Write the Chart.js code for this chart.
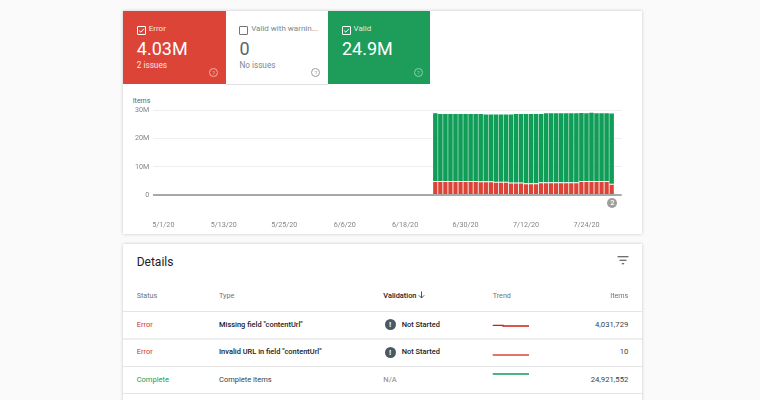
<!DOCTYPE html>
<html><head><meta charset="utf-8">
<script src="https://cdn.jsdelivr.net/npm/chart.js@4"></script>
<style>
html,body{margin:0;padding:0;width:760px;height:400px;overflow:hidden;background:#fafafa;font-family:Roboto,sans-serif;}
#page{position:absolute;left:0;top:0;width:760px;height:400px;overflow:hidden;background:#fafafa;filter:blur(.35px);}
.a{position:absolute;white-space:nowrap;line-height:1;}
.card{position:absolute;background:#fff;box-shadow:0 0 3px rgba(0,0,0,.22);}
.tile{position:absolute;top:11px;height:72.5px;width:102.3px;}
.cb{position:absolute;width:7px;height:7px;border:1px solid;border-radius:1px;top:25.8px;}
.cb svg{position:absolute;left:0;top:0;width:7px;height:7px;}
.q{position:absolute;top:67.5px;width:7px;height:7px;border:1px solid;border-radius:50%;font-size:6px;line-height:7px;text-align:center;}
.sep{position:absolute;left:123px;width:519px;background:#e4e4e4;height:1px;}
.bold{font-size:7.45px;color:#202124;font-weight:500;}
.ex{position:absolute;left:384.5px;width:11px;height:11px;border-radius:50%;background:#455a6b;color:#fff;font-size:8px;line-height:11px;text-align:center;font-weight:700;}
canvas{position:absolute;}
</style></head><body><div id="page">
<div class="card" style="left:123.3px;top:11px;width:518.7px;height:223px"></div>
<div class="tile" style="left:123.3px;background:#db4437"></div>
<div class="tile" style="left:225.6px;background:#fff;border-bottom:1px solid #e0e0e0"></div>
<div class="tile" style="left:328px;background:#1e9c5a"></div>
<div class="cb" style="left:136.7px;border-color:#fff"><svg viewBox="0 0 7 7"><path d="M1.2 3.6 L2.9 5.2 L5.9 1.8" fill="none" stroke="#fff" stroke-width="1"/></svg></div>
<div class="a" style="left:148.7px;top:25px;font-size:8px;color:#fbe4e1">Error</div>
<div class="a" style="left:136.8px;top:40px;font-size:18px;color:#fff">4.03M</div>
<div class="a" style="left:136.8px;top:61.3px;font-size:8.2px;color:#fbe4e1">2 issues</div>
<div class="q" style="left:209.2px;border-color:#eeb3ab;color:#eeb3ab">?</div>
<div class="cb" style="left:239.3px;border-color:#757575"></div>
<div class="a" style="left:251.2px;top:25px;font-size:8px;color:#80868b">Valid with warnin...</div>
<div class="a" style="left:239.4px;top:40px;font-size:18px;color:#5f6368">0</div>
<div class="a" style="left:239.4px;top:61.3px;font-size:8.2px;color:#80868b">No issues</div>
<div class="q" style="left:311.3px;border-color:#9e9e9e;color:#9e9e9e">?</div>
<div class="cb" style="left:341.6px;border-color:#fff"><svg viewBox="0 0 7 7"><path d="M1.2 3.6 L2.9 5.2 L5.9 1.8" fill="none" stroke="#fff" stroke-width="1"/></svg></div>
<div class="a" style="left:353.6px;top:25px;font-size:8px;color:#d9efe3">Valid</div>
<div class="a" style="left:342px;top:40px;font-size:18px;color:#fff">24.9M</div>
<div class="q" style="left:413.8px;border-color:#8fd0ae;color:#8fd0ae">?</div>
<div class="a" style="left:132.7px;top:97.5px;font-size:7px;color:#5f6368">Items</div>
<canvas id="main" width="519" height="140" style="left:123px;top:90px;width:519px;height:140px"></canvas>
<div class="a" style="left:607.3px;top:197.7px;width:10px;height:10px;border-radius:50%;background:#9e9e9e;color:#fff;font-size:7.5px;line-height:10px;text-align:center;font-weight:500">2</div>

<div class="card" style="left:123.3px;top:244px;width:518.7px;height:170px"></div>
<div class="a" style="left:136.7px;top:255.5px;font-size:12px;color:#202124">Details</div>
<svg style="position:absolute;left:617px;top:256px" width="12" height="9" viewBox="0 0 12 9"><path d="M0.5 .7H11.5M2.5 4.2H9.5M4.8 7.7H7.2" stroke="#3c4043" stroke-width="1.1" fill="none"/></svg>
<div class="a" style="left:136.7px;top:291.8px;font-size:7.2px;color:#6f7378">Status</div>
<div class="a" style="left:219px;top:291.8px;font-size:7.2px;color:#6f7378">Type</div>
<div class="a" style="left:383.3px;top:291.8px;font-size:7.4px;color:#202124;font-weight:500">Validation</div>
<svg style="position:absolute;left:418px;top:291px" width="7" height="8" viewBox="0 0 7 8"><path d="M3.5 .5V7M.8 4.3L3.5 7L6.2 4.3" stroke="#3c4043" stroke-width=".9" fill="none"/></svg>
<div class="a" style="left:492.7px;top:291.8px;font-size:7.2px;color:#6f7378">Trend</div>
<div class="a" style="right:131.7px;top:291.8px;font-size:7.2px;color:#6f7378">Items</div>
<div class="sep" style="top:311px"></div><div class="sep" style="top:338px;height:2px;background:#eee"></div><div class="sep" style="top:366px"></div><div class="sep" style="top:393px"></div>

<div class="a" style="left:136.7px;top:320.8px;font-size:7.5px;color:#d93025">Error</div>
<div class="a bold" style="left:219px;top:320.8px">Missing field "contentUrl"</div>
<div class="ex" style="top:319.2px">!</div>
<div class="a bold" style="left:401.7px;top:320.8px">Not Started</div>
<div class="a" style="right:131.7px;top:320.8px;font-size:7.7px;color:#3c4043">4,031,729</div>

<div class="a" style="left:136.7px;top:348.1px;font-size:7.5px;color:#d93025">Error</div>
<div class="a bold" style="left:219px;top:348.1px">Invalid URL in field "contentUrl"</div>
<div class="ex" style="top:346.5px">!</div>
<div class="a bold" style="left:401.7px;top:348.1px">Not Started</div>
<div class="a" style="right:131.7px;top:348.1px;font-size:7.7px;color:#3c4043">10</div>

<div class="a" style="left:136.7px;top:375.5px;font-size:7.5px;color:#0f9d58">Complete</div>
<div class="a" style="left:219px;top:375.5px;font-size:7.5px;color:#3c4043">Complete items</div>
<div class="a" style="left:383.3px;top:375.5px;font-size:7.5px;color:#80868b">N/A</div>
<div class="a" style="right:131.7px;top:375.5px;font-size:7.7px;color:#3c4043">24,921,552</div>

<canvas id="t1" width="38" height="10" style="left:492px;top:321px;width:38px;height:10px"></canvas>
<canvas id="t2" width="38" height="10" style="left:492px;top:350px;width:38px;height:10px"></canvas>
<canvas id="t3" width="38" height="10" style="left:492px;top:369px;width:38px;height:10px"></canvas>
</div>
<script>
const categories = [
"4/29/20","4/30/20","5/1/20","5/2/20","5/3/20","5/4/20","5/5/20","5/6/20","5/7/20","5/8/20","5/9/20","5/10/20","5/11/20","5/12/20","5/13/20","5/14/20","5/15/20","5/16/20","5/17/20","5/18/20","5/19/20","5/20/20","5/21/20","5/22/20","5/23/20","5/24/20","5/25/20","5/26/20","5/27/20","5/28/20","5/29/20","5/30/20","5/31/20","6/1/20","6/2/20","6/3/20","6/4/20","6/5/20","6/6/20","6/7/20","6/8/20","6/9/20","6/10/20","6/11/20","6/12/20","6/13/20","6/14/20","6/15/20","6/16/20","6/17/20","6/18/20","6/19/20","6/20/20","6/21/20","6/22/20","6/23/20",
"6/24/20","6/25/20","6/26/20","6/27/20","6/28/20","6/29/20","6/30/20","7/1/20","7/2/20","7/3/20","7/4/20","7/5/20","7/6/20","7/7/20","7/8/20","7/9/20","7/10/20","7/11/20","7/12/20","7/13/20","7/14/20","7/15/20","7/16/20","7/17/20","7/18/20","7/19/20","7/20/20","7/21/20","7/22/20","7/23/20","7/24/20","7/25/20","7/26/20","7/27/20","7/28/20","7/29/20","7/30/20","7/31/20"];
const xTickLabels = ["5/1/20","5/13/20","5/25/20","6/6/20","6/18/20","6/30/20","7/12/20","7/24/20"];
const yTickValues = [0,10,20,30];
const yTickLabels = ["0","10M","20M","30M"];
const errorValues = [
0,0,0,0,0,0,0,0,0,0,0,0,0,0,0,0,0,0,0,0,0,0,0,0,0,0,0,0,0,0,0,0,0,0,0,0,0,0,0,0,0,0,0,0,0,0,0,0,0,0,0,0,0,0,0,0,
5.0,5.0,5.0,5.0,5.0,5.0,5.0,5.0,5.0,4.9,4.9,4.9,4.7,4.7,4.7,4.4,4.4,4.4,4.2,4.2,4.2,4.5,4.5,4.5,4.5,4.5,4.5,4.5,4.5,5.0,5.0,5.0,5.0,5.0,5.0,4.03,0,0];
const validValues = [
0,0,0,0,0,0,0,0,0,0,0,0,0,0,0,0,0,0,0,0,0,0,0,0,0,0,0,0,0,0,0,0,0,0,0,0,0,0,0,0,0,0,0,0,0,0,0,0,0,0,0,0,0,0,0,0,
24.0,23.8,23.8,23.8,23.8,23.8,23.8,23.8,23.8,23.9,23.7,23.7,23.9,23.9,23.9,24.2,24.4,24.4,24.6,24.6,24.6,24.3,24.5,24.5,24.5,24.5,24.5,24.5,24.5,24.15,24.0,24.2,24.0,24.0,24.0,24.92,0,0];
const trendMissing = [4,4,4,4,4,4,4,4,4,4,3,3,3,3,3,3,3,3,3,3,3,3,3,3,3,3,3,3,3,3,3,3,3,3,3,3];
const trendInvalid = [10,10,10,10,10,10,10,10,10,10,10,10,10,10,10,10,10,10,10,10,10,10,10,10,10,10,10,10,10,10,10,10,10,10,10,10];
const trendComplete = [24.9,24.9,24.9,24.9,24.9,24.9,24.9,24.9,24.9,24.9,24.9,24.9,24.9,24.9,24.9,24.9,24.9,24.9,24.9,24.9,24.9,24.9,24.9,24.9,24.9,24.9,24.9,24.9,24.9,24.9,24.9,24.9,24.9,24.9,24.9,24.9];

new Chart(document.getElementById('main'), {
  type:'bar',
  data:{labels:categories,datasets:[
    {label:'Error',data:errorValues,backgroundColor:'#db4437',borderColor:'rgba(255,255,255,.75)',borderWidth:{top:1,left:0,right:0,bottom:0},borderSkipped:false,stack:'s',categoryPercentage:1,barPercentage:.9},
    {label:'Valid',data:validValues,backgroundColor:'#0f9d58',borderWidth:0,stack:'s',categoryPercentage:1,barPercentage:.9}
  ]},
  options:{
    responsive:false,animation:false,devicePixelRatio:1,
    layout:{padding:{left:0,right:20.3,top:20.5,bottom:0}},
    plugins:{legend:{display:false},tooltip:{enabled:false}},
    scales:{
      x:{stacked:true,offset:false,border:{display:false},grid:{display:false},
        afterFit(s){s.height=35;},
        ticks:{autoSkip:false,maxRotation:0,minRotation:0,padding:18,color:'#80868b',font:{family:'Roboto',size:7.2},
          callback(v){const l=categories[v];return xTickLabels.includes(l)?l:'';}}},
      y:{stacked:true,min:0,max:30,border:{display:false},
        afterFit(s){s.width=30.3;},
        afterBuildTicks(s){s.ticks=yTickValues.map(v=>({value:v}));},
        grid:{drawTicks:false,color:c=>c.tick.value===0?'#a8a8a8':'#eeeeee',lineWidth:c=>c.tick.value===0?2:1},
        ticks:{padding:4,color:'#80868b',font:{family:'Roboto',size:7.2},
          callback(v){return yTickLabels[yTickValues.indexOf(v)];}}}
    }
  }
});
function spark(id,vals,color,min,max){
  new Chart(document.getElementById(id),{
    type:'line',
    data:{labels:vals.map((_,i)=>i),datasets:[{data:vals,borderColor:color,borderWidth:1.3,pointRadius:0,stepped:true}]},
    options:{responsive:false,animation:false,devicePixelRatio:1,layout:{padding:{left:.7,right:1,top:0,bottom:0}},
      plugins:{legend:{display:false},tooltip:{enabled:false}},
      scales:{x:{display:false},y:{display:false,min,max}}}
  });
}
spark('t1',trendMissing,'#cc1f12',-6,12);
spark('t2',trendInvalid,'#db4437',0,20);
spark('t3',trendComplete,'#0f9d58',0,50);
</script>
</body></html>
